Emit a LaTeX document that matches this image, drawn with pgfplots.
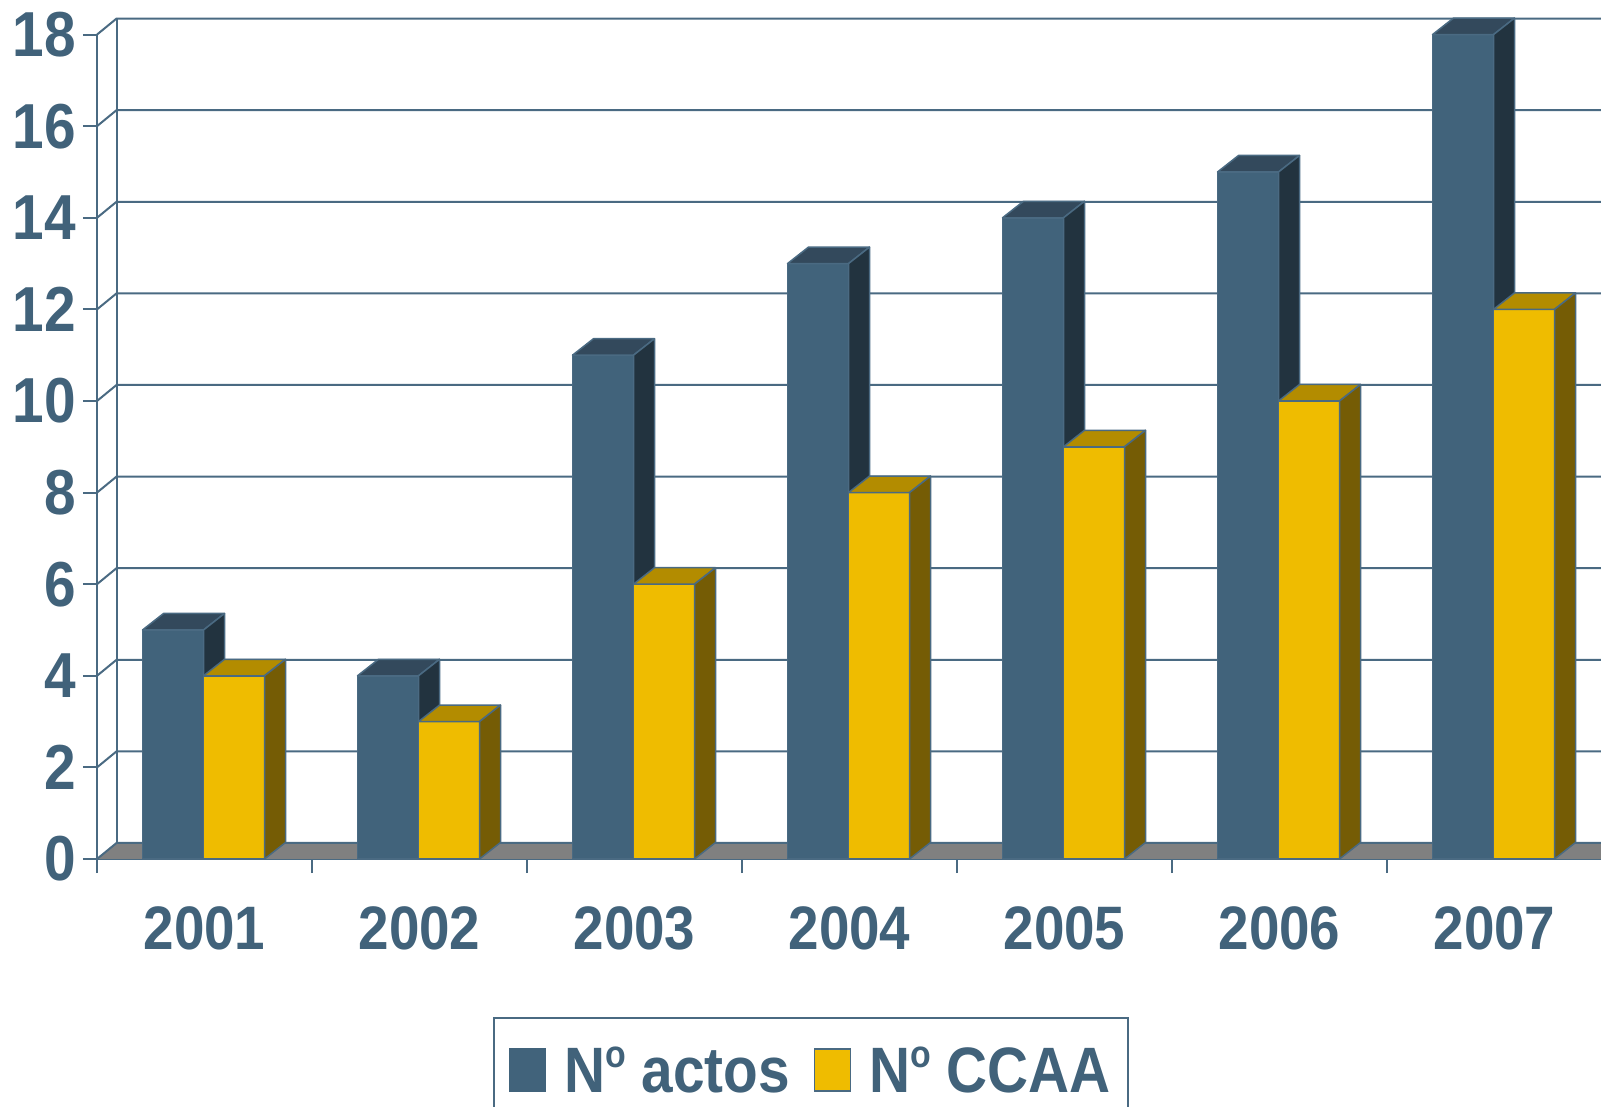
\documentclass[border=0pt]{standalone}
\usepackage{fontspec}
\setmainfont{Liberation Sans}
\usepackage{pgfplots}
\usepackage{pgfplotstable}
\pgfplotsset{compat=1.18}
\definecolor{textc}{HTML}{41627A}
\definecolor{edgec}{HTML}{4A6A82}
\definecolor{blueF}{HTML}{41637B}
\definecolor{blueT}{HTML}{33495C}
\definecolor{blueS}{HTML}{22333F}
\definecolor{yelF}{HTML}{EFBC00}
\definecolor{yelT}{HTML}{B38C00}
\definecolor{yelS}{HTML}{755C05}
\definecolor{floorc}{HTML}{808080}

\pgfplotstableread{
x a c
0 5 4
1 4 3
2 11 6
3 13 8
4 14 9
5 15 10
6 18 12
}\data

\def\ddx{21bp}\def\ddy{16.5bp}
\def\wdx{19.5bp}\def\wdy{16bp}
\newcommand\declbox[5]{%
\pgfdeclareplotmark{#1}{%
 \pgfkeys{/pgf/fpu=false}%
 \pgfmathsetlengthmacro\hh{\yv*45.8bp}%
 \pgfsetlinewidth{1.5bp}\pgfsetstrokecolor{edgec}\pgfsetroundjoin
 \pgfsetfillcolor{#4}%
 \pgfpathmoveto{\pgfpoint{#2}{0pt}}%
 \pgfpathlineto{\pgfpoint{#2+\ddx}{\ddy}}%
 \pgfpathlineto{\pgfpoint{#3+\ddx}{\ddy}}%
 \pgfpathlineto{\pgfpoint{#3}{0pt}}%
 \pgfpathclose
 \pgfusepath{fill,stroke}%
 \pgfsetfillcolor{#5}%
 \pgfpathmoveto{\pgfpoint{#3}{0pt}}%
 \pgfpathlineto{\pgfpoint{#3+\ddx}{\ddy}}%
 \pgfpathlineto{\pgfpoint{#3+\ddx}{\ddy-\hh}}%
 \pgfpathlineto{\pgfpoint{#3}{-\hh}}%
 \pgfpathclose
 \pgfusepath{fill,stroke}%
}}
\declbox{boxA}{-62bp}{-1bp}{blueT}{blueS}
\declbox{boxC}{-1bp}{60bp}{yelT}{yelS}
\newcommand\vsc[1]{\scalebox{1}[1.12]{#1}}
\newcommand\ordo{\raisebox{22bp}{\fontsize{34}{34}\selectfont o}}

\begin{document}
\begin{tikzpicture}
\begin{axis}[
 at={(97bp,248bp)}, anchor=south west,
 x=215bp, y=45.8bp, xmin=-0.5, xmax=6.5, ymin=0, ymax=18,
 clip=false, clip marker paths=true,
 axis x line*=bottom, axis y line*=left,
 axis line style={edgec, line width=2bp},
 tick align=outside, major tick length=14bp,
 tick style={edgec, line width=2bp},
 ytick={0,2,...,18},
 xtick={-0.5,0.5,...,6.5}, xticklabels={},
 extra x ticks={0,1,2,3,4,5,6},
 extra x tick labels={\vsc{2001},\vsc{2002},\vsc{2003},\vsc{2004},\vsc{2005},\vsc{2006},\vsc{2007}},
 extra x tick style={major tick length=0pt, xticklabel style={anchor=north, yshift=-47bp, font=\fontsize{55}{60}\selectfont\bfseries}},
 /pgf/number format/assume math mode=true,
 tick label style={font=\fontsize{57}{60}\selectfont\bfseries, text=textc, inner sep=0pt},
 yticklabel={\vsc{\pgfmathprintnumber{\tick}}},
 yticklabel style={anchor=east, xshift=-7bp},
 legend style={at={(axis description cs:0.2629,-0.1913)}, anchor=north west,
   draw=edgec, line width=2bp, inner xsep=15bp, inner ysep=27bp,
   font=\fontsize{57}{60}\selectfont\bfseries, text=textc,
   cells={anchor=west, inner sep=0pt},
   /tikz/every even column/.append style={column sep=22bp}},
 legend columns=2,
]
% floor
\fill[floorc] (axis cs:-0.5,0) -- (axis cs:6.5,0) -- ([xshift=\wdx,yshift=\wdy]axis cs:6.5,0) -- ([xshift=\wdx,yshift=\wdy]axis cs:-0.5,0) -- cycle;
% back wall grid
\pgfplotsinvokeforeach{0,2,4,6,8,10,12,14,16,18}{
 \draw[edgec, line width=2bp] (axis cs:-0.5,#1) -- ([xshift=\wdx,yshift=\wdy]axis cs:-0.5,#1) -- ([xshift=\wdx,yshift=\wdy]axis cs:6.5,#1);
}
\draw[edgec, line width=2bp] ([xshift=\wdx,yshift=\wdy]axis cs:-0.5,0) -- ([xshift=\wdx,yshift=\wdy]axis cs:-0.5,18);

\addplot[ybar, bar width=61bp, bar shift=-31.5bp, fill=blueF, draw=edgec, line width=1.5bp,
  legend image code/.code={\draw[fill=blueF, draw=blueF, line width=1.5bp] (0bp,-21bp) rectangle (36bp,21bp); \path (52bp,0bp);}]
  table[x=x, y=a] {\data};
\addlegendentry{\scalebox{1}[1.13]{N\ordo\ actos}}
\addplot[only marks, mark=boxA, forget plot, visualization depends on={rawy \as \yv}] table[x=x, y=a] {\data};

\addplot[ybar, bar width=61bp, bar shift=29.5bp, fill=yelF, draw=edgec, line width=1.5bp,
  legend image code/.code={\draw[fill=yelF, draw=edgec, line width=1.5bp] (0bp,-21bp) rectangle (36bp,21bp); \path (52bp,0bp);}]
  table[x=x, y=c] {\data};
\addlegendentry{\scalebox{1}[1.13]{N\ordo\ CCAA}}
\addplot[only marks, mark=boxC, forget plot, visualization depends on={rawy \as \yv}] table[x=x, y=c] {\data};
\end{axis}
\pgfresetboundingbox
\path[use as bounding box] (0,0) rectangle (1601bp,1107bp);
\end{tikzpicture}
\end{document}
